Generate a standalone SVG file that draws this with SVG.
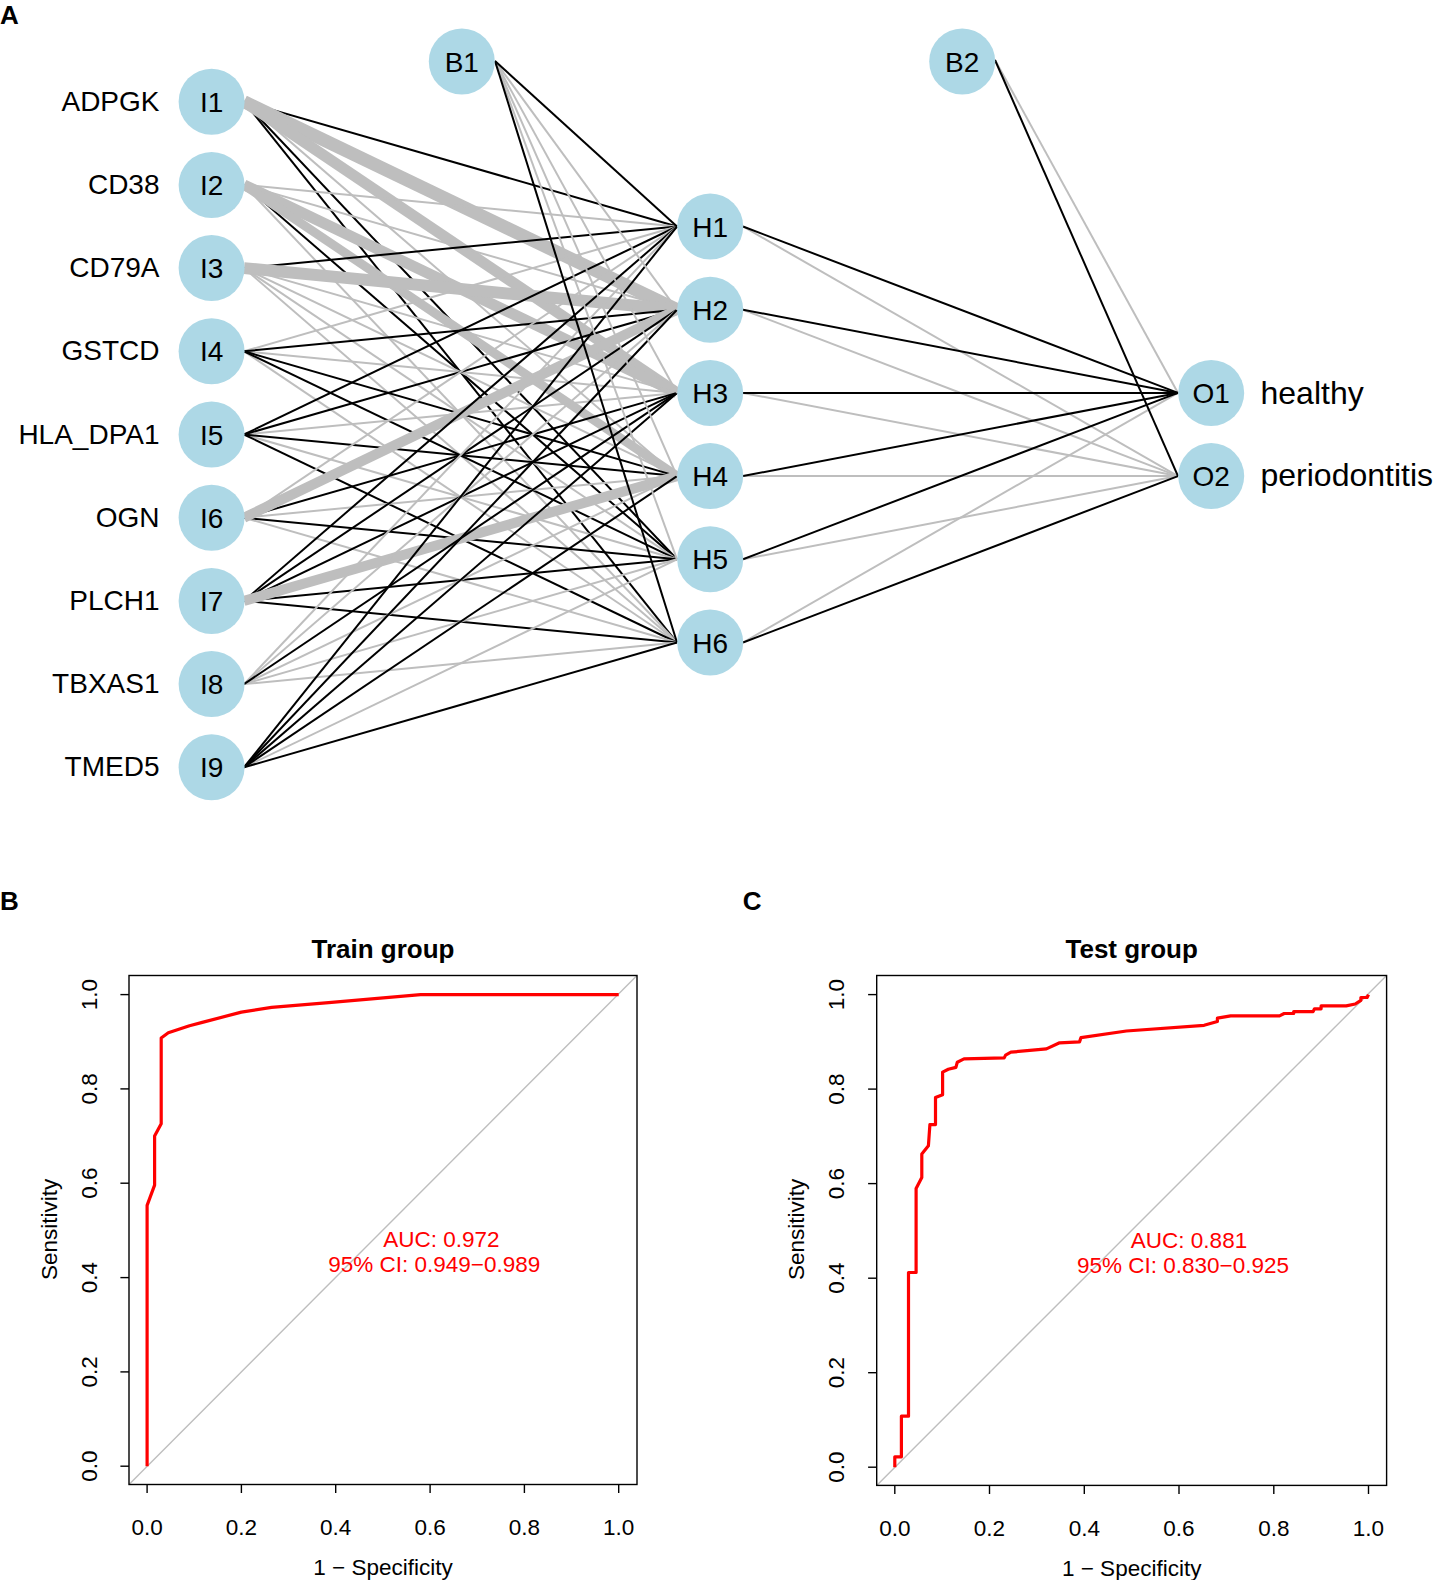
<svg xmlns="http://www.w3.org/2000/svg" width="1436" height="1580" viewBox="0 0 1436 1580">
<style>
text{font-family:"Liberation Sans",Arial,Helvetica,sans-serif;fill:#000}
.k{stroke:#000;stroke-width:2;fill:none}
.g{stroke:#BEBEBE;stroke-width:2;fill:none}
.gt{stroke:#BEBEBE;fill:none}
.node{fill:#ADD8E6}
.nl{font-size:28px;text-anchor:middle}
.gl{font-size:28px;text-anchor:end}
.ol{font-size:32px}
.panel{font-size:26px;font-weight:bold}
.title{font-size:26px;font-weight:bold;text-anchor:middle}
.ax{font-size:22.5px;text-anchor:middle}
.auc{font-size:22.5px;text-anchor:middle;fill:#FF0000}
.box{fill:none;stroke:#000;stroke-width:1.4}
.tick{stroke:#000;stroke-width:1.4}
.diag{stroke:#BEBEBE;stroke-width:1.4}
.roc{fill:none;stroke:#FF0000;stroke-width:3.2;stroke-linejoin:round}
</style>
<rect width="1436" height="1580" fill="#fff"/>
<text class="panel" x="0" y="24">A</text>
<g id="connectors">
<!-- I1 -->
<line class="g" x1="244" y1="101.7" x2="677" y2="476.1"/>
<line class="k" x1="244" y1="101.7" x2="677" y2="226.5"/>
<line class="k" x1="244" y1="101.7" x2="677" y2="559.3"/>
<line class="k" x1="244" y1="101.7" x2="677" y2="642.5"/>
<line class="gt" stroke-width="13" x1="244" y1="101.7" x2="677" y2="309.7"/>
<line class="gt" stroke-width="11" x1="244" y1="101.7" x2="677" y2="392.9"/>
<!-- I2 -->
<line class="g" x1="244" y1="184.9" x2="677" y2="226.5"/>
<line class="g" x1="244" y1="184.9" x2="677" y2="309.7"/>
<line class="g" x1="244" y1="184.9" x2="677" y2="642.5"/>
<line class="k" x1="244" y1="184.9" x2="677" y2="559.3"/>
<line class="gt" stroke-width="11" x1="244" y1="184.9" x2="677" y2="392.9"/>
<line class="gt" stroke-width="9" x1="244" y1="184.9" x2="677" y2="476.1"/>
<!-- I3 -->
<line class="g" x1="244" y1="268.1" x2="677" y2="392.9"/>
<line class="g" x1="244" y1="268.1" x2="677" y2="476.1"/>
<line class="g" x1="244" y1="268.1" x2="677" y2="559.3"/>
<line class="g" x1="244" y1="268.1" x2="677" y2="642.5"/>
<line class="k" x1="244" y1="268.1" x2="677" y2="226.5"/>
<line class="gt" stroke-width="12" x1="244" y1="268.1" x2="677" y2="309.7"/>
<!-- I4 -->
<line class="g" x1="244" y1="351.3" x2="677" y2="226.5"/>
<line class="g" x1="244" y1="351.3" x2="677" y2="392.9"/>
<line class="g" x1="244" y1="351.3" x2="677" y2="642.5"/>
<line class="k" x1="244" y1="351.3" x2="677" y2="309.7"/>
<line class="k" x1="244" y1="351.3" x2="677" y2="476.1"/>
<line class="k" x1="244" y1="351.3" x2="677" y2="559.3"/>
<!-- I5 -->
<line class="g" x1="244" y1="434.5" x2="677" y2="392.9"/>
<line class="g" x1="244" y1="434.5" x2="677" y2="559.3"/>
<line class="k" x1="244" y1="434.5" x2="677" y2="226.5"/>
<line class="k" x1="244" y1="434.5" x2="677" y2="309.7"/>
<line class="k" x1="244" y1="434.5" x2="677" y2="476.1"/>
<line class="k" x1="244" y1="434.5" x2="677" y2="642.5"/>
<!-- I6 -->
<line class="g" x1="244" y1="517.7" x2="677" y2="226.5"/>
<line class="g" x1="244" y1="517.7" x2="677" y2="476.1"/>
<line class="g" x1="244" y1="517.7" x2="677" y2="642.5"/>
<line class="k" x1="244" y1="517.7" x2="677" y2="392.9"/>
<line class="k" x1="244" y1="517.7" x2="677" y2="559.3"/>
<line class="gt" stroke-width="10" x1="244" y1="517.7" x2="677" y2="309.7"/>
<!-- I7 -->
<line class="k" x1="244" y1="600.9" x2="677" y2="226.5"/>
<line class="k" x1="244" y1="600.9" x2="677" y2="309.7"/>
<line class="k" x1="244" y1="600.9" x2="677" y2="392.9"/>
<line class="k" x1="244" y1="600.9" x2="677" y2="559.3"/>
<line class="k" x1="244" y1="600.9" x2="677" y2="642.5"/>
<line class="gt" stroke-width="10" x1="244" y1="600.9" x2="677" y2="476.1"/>
<!-- I8 -->
<line class="g" x1="244" y1="684.1" x2="677" y2="226.5"/>
<line class="g" x1="244" y1="684.1" x2="677" y2="309.7"/>
<line class="g" x1="244" y1="684.1" x2="677" y2="476.1"/>
<line class="g" x1="244" y1="684.1" x2="677" y2="559.3"/>
<line class="g" x1="244" y1="684.1" x2="677" y2="642.5"/>
<line class="k" x1="244" y1="684.1" x2="677" y2="392.9"/>
<!-- I9 -->
<line class="g" x1="244" y1="767.3" x2="677" y2="559.3"/>
<line class="k" x1="244" y1="767.3" x2="677" y2="226.5"/>
<line class="k" x1="244" y1="767.3" x2="677" y2="309.7"/>
<line class="k" x1="244" y1="767.3" x2="677" y2="392.9"/>
<line class="k" x1="244" y1="767.3" x2="677" y2="476.1"/>
<line class="k" x1="244" y1="767.3" x2="677" y2="642.5"/>
<!-- B1 -->
<line class="g" x1="495" y1="61" x2="677" y2="309.7"/>
<line class="g" x1="495" y1="61" x2="677" y2="392.9"/>
<line class="g" x1="495" y1="61" x2="677" y2="476.1"/>
<line class="g" x1="495" y1="61" x2="677" y2="559.3"/>
<line class="k" x1="495" y1="61" x2="677" y2="226.5"/>
<line class="k" x1="495" y1="61" x2="677" y2="642.5"/>
<!-- hidden to output -->
<line class="g" x1="743" y1="226.5" x2="1178" y2="476.1"/>
<line class="g" x1="743" y1="309.7" x2="1178" y2="476.1"/>
<line class="g" x1="743" y1="392.9" x2="1178" y2="476.1"/>
<line class="g" x1="743" y1="476.1" x2="1178" y2="476.1"/>
<line class="g" x1="743" y1="559.3" x2="1178" y2="476.1"/>
<line class="g" x1="743" y1="642.5" x2="1178" y2="392.9"/>
<line class="g" x1="995" y1="60" x2="1178" y2="392.9"/>
<line class="k" x1="743" y1="226.5" x2="1178" y2="392.9"/>
<line class="k" x1="743" y1="309.7" x2="1178" y2="392.9"/>
<line class="k" x1="743" y1="392.9" x2="1178" y2="392.9"/>
<line class="k" x1="743" y1="476.1" x2="1178" y2="392.9"/>
<line class="k" x1="743" y1="559.3" x2="1178" y2="392.9"/>
<line class="k" x1="743" y1="642.5" x2="1178" y2="476.1"/>
<line class="k" x1="995" y1="60" x2="1178" y2="476.1"/>
</g>
<g id="I1"><circle class="node" cx="211.6" cy="101.7" r="33"/><text class="nl" x="211.6" y="111.7">I1</text><text class="gl" x="159.5" y="110.7">ADPGK</text></g>
<g id="I2"><circle class="node" cx="211.6" cy="184.9" r="33"/><text class="nl" x="211.6" y="194.9">I2</text><text class="gl" x="159.5" y="193.9">CD38</text></g>
<g id="I3"><circle class="node" cx="211.6" cy="268.1" r="33"/><text class="nl" x="211.6" y="278.1">I3</text><text class="gl" x="159.5" y="277.1">CD79A</text></g>
<g id="I4"><circle class="node" cx="211.6" cy="351.3" r="33"/><text class="nl" x="211.6" y="361.3">I4</text><text class="gl" x="159.5" y="360.3">GSTCD</text></g>
<g id="I5"><circle class="node" cx="211.6" cy="434.5" r="33"/><text class="nl" x="211.6" y="444.5">I5</text><text class="gl" x="159.5" y="443.5">HLA_DPA1</text></g>
<g id="I6"><circle class="node" cx="211.6" cy="517.7" r="33"/><text class="nl" x="211.6" y="527.7">I6</text><text class="gl" x="159.5" y="526.7">OGN</text></g>
<g id="I7"><circle class="node" cx="211.6" cy="600.9" r="33"/><text class="nl" x="211.6" y="610.9">I7</text><text class="gl" x="159.5" y="609.9">PLCH1</text></g>
<g id="I8"><circle class="node" cx="211.6" cy="684.1" r="33"/><text class="nl" x="211.6" y="694.1">I8</text><text class="gl" x="159.5" y="693.1">TBXAS1</text></g>
<g id="I9"><circle class="node" cx="211.6" cy="767.3" r="33"/><text class="nl" x="211.6" y="777.3">I9</text><text class="gl" x="159.5" y="776.3">TMED5</text></g>
<g id="B1"><circle class="node" cx="461.8" cy="61.5" r="33"/><text class="nl" x="461.8" y="71.5">B1</text></g>
<g id="H1"><circle class="node" cx="710.2" cy="226.5" r="33"/><text class="nl" x="710.2" y="236.5">H1</text></g>
<g id="H2"><circle class="node" cx="710.2" cy="309.7" r="33"/><text class="nl" x="710.2" y="319.7">H2</text></g>
<g id="H3"><circle class="node" cx="710.2" cy="392.9" r="33"/><text class="nl" x="710.2" y="402.9">H3</text></g>
<g id="H4"><circle class="node" cx="710.2" cy="476.1" r="33"/><text class="nl" x="710.2" y="486.1">H4</text></g>
<g id="H5"><circle class="node" cx="710.2" cy="559.3" r="33"/><text class="nl" x="710.2" y="569.3">H5</text></g>
<g id="H6"><circle class="node" cx="710.2" cy="642.5" r="33"/><text class="nl" x="710.2" y="652.5">H6</text></g>
<g id="B2"><circle class="node" cx="962.2" cy="61.5" r="33"/><text class="nl" x="962.2" y="71.5">B2</text></g>
<g id="O1"><circle class="node" cx="1211.2" cy="392.9" r="33"/><text class="nl" x="1211.2" y="402.9">O1</text><text class="ol" x="1260.5" y="404">healthy</text></g>
<g id="O2"><circle class="node" cx="1211.2" cy="476.1" r="33"/><text class="nl" x="1211.2" y="486.1">O2</text><text class="ol" x="1260.5" y="486">periodontitis</text></g>

<g id="train-roc">
<text class="panel" x="0" y="910">B</text>
<text class="title" x="383" y="957.5">Train group</text>
<line class="diag" x1="129" y1="1484.4" x2="637" y2="975.5"/>
<polyline class="roc" points="147.1,1466.2 147.1,1205.4 154.6,1185.1 154.6,1136.1 161.2,1123.8 161.2,1038 168.3,1032.8 189.5,1025.7 202.3,1022.4 241.4,1012.1 271.6,1007.3 328.7,1002.6 420.6,994.6 618.7,994.6"/>
<rect class="box" x="129" y="975.5" width="508" height="509"/>
<g class="tick">
<line x1="147.1" y1="1484.4" x2="147.1" y2="1493"/><line x1="241.4" y1="1484.4" x2="241.4" y2="1493"/><line x1="335.7" y1="1484.4" x2="335.7" y2="1493"/><line x1="430.1" y1="1484.4" x2="430.1" y2="1493"/><line x1="524.4" y1="1484.4" x2="524.4" y2="1493"/><line x1="618.7" y1="1484.4" x2="618.7" y2="1493"/>
<line x1="129" y1="1466.2" x2="120.4" y2="1466.2"/><line x1="129" y1="1371.9" x2="120.4" y2="1371.9"/><line x1="129" y1="1277.6" x2="120.4" y2="1277.6"/><line x1="129" y1="1183.2" x2="120.4" y2="1183.2"/><line x1="129" y1="1088.9" x2="120.4" y2="1088.9"/><line x1="129" y1="994.6" x2="120.4" y2="994.6"/>
</g>
<text class="ax" x="147.1" y="1535">0.0</text><text class="ax" x="241.4" y="1535">0.2</text><text class="ax" x="335.7" y="1535">0.4</text><text class="ax" x="430.1" y="1535">0.6</text><text class="ax" x="524.4" y="1535">0.8</text><text class="ax" x="618.7" y="1535">1.0</text>
<text class="ax" transform="translate(96.7,1466.2) rotate(-90)">0.0</text>
<text class="ax" transform="translate(96.7,1371.9) rotate(-90)">0.2</text>
<text class="ax" transform="translate(96.7,1277.6) rotate(-90)">0.4</text>
<text class="ax" transform="translate(96.7,1183.2) rotate(-90)">0.6</text>
<text class="ax" transform="translate(96.7,1088.9) rotate(-90)">0.8</text>
<text class="ax" transform="translate(96.7,994.6) rotate(-90)">1.0</text>
<text class="ax" transform="translate(56.5,1229.4) rotate(-90)">Sensitivity</text>
<text class="ax" x="383" y="1575">1 − Specificity</text>
<text class="auc" x="441.4" y="1246.5">AUC: 0.972</text>
<text class="auc" x="434.3" y="1271.6">95% CI: 0.949−0.989</text>
</g>

<g id="test-roc">
<text class="panel" x="742.7" y="910">C</text>
<text class="title" x="1131.7" y="957.5">Test group</text>
<line class="diag" x1="876.7" y1="1485.4" x2="1386.6" y2="975.5"/>
<polyline class="roc" points="894.8,1467.2 894.8,1456.8 901.4,1456.8 901.4,1416.2 908.5,1416.2 908.5,1272.5 916.1,1272.5 916.1,1188.4 921.8,1177.5 921.8,1153.9 928.4,1145.8 929.9,1124.6 935.5,1124.6 935.5,1097.6 942.6,1094.8 942.6,1072.1 948.3,1069.3 955.9,1067.4 957.3,1062.2 964,1058.9 1004.2,1057.9 1005.6,1055.1 1010.9,1052.2 1046.4,1048.9 1059.6,1042.8 1079.5,1041.9 1081,1037.6 1126.4,1031 1204.1,1025.3 1217.4,1021.5 1217.4,1018.2 1230.7,1015.9 1279.5,1015.9 1284.2,1013.5 1293.7,1013.5 1293.7,1011.6 1313.1,1011.6 1314.5,1008.8 1321.1,1008.8 1321.1,1005.9 1346.2,1005.9 1355.2,1004 1360.9,1000.3 1360.9,997.5 1367.1,997.5 1368.5,994.6"/>
<rect class="box" x="876.7" y="975.5" width="509.9" height="509.9"/>
<g class="tick">
<line x1="894.8" y1="1485.4" x2="894.8" y2="1494"/><line x1="989.5" y1="1485.4" x2="989.5" y2="1494"/><line x1="1084.3" y1="1485.4" x2="1084.3" y2="1494"/><line x1="1179" y1="1485.4" x2="1179" y2="1494"/><line x1="1273.8" y1="1485.4" x2="1273.8" y2="1494"/><line x1="1368.5" y1="1485.4" x2="1368.5" y2="1494"/>
<line x1="876.7" y1="1467.2" x2="868.1" y2="1467.2"/><line x1="876.7" y1="1372.7" x2="868.1" y2="1372.7"/><line x1="876.7" y1="1278.2" x2="868.1" y2="1278.2"/><line x1="876.7" y1="1183.6" x2="868.1" y2="1183.6"/><line x1="876.7" y1="1089.1" x2="868.1" y2="1089.1"/><line x1="876.7" y1="994.6" x2="868.1" y2="994.6"/>
</g>
<text class="ax" x="894.8" y="1536">0.0</text><text class="ax" x="989.5" y="1536">0.2</text><text class="ax" x="1084.3" y="1536">0.4</text><text class="ax" x="1179" y="1536">0.6</text><text class="ax" x="1273.8" y="1536">0.8</text><text class="ax" x="1368.5" y="1536">1.0</text>
<text class="ax" transform="translate(844.4,1467.2) rotate(-90)">0.0</text>
<text class="ax" transform="translate(844.4,1372.7) rotate(-90)">0.2</text>
<text class="ax" transform="translate(844.4,1278.2) rotate(-90)">0.4</text>
<text class="ax" transform="translate(844.4,1183.6) rotate(-90)">0.6</text>
<text class="ax" transform="translate(844.4,1089.1) rotate(-90)">0.8</text>
<text class="ax" transform="translate(844.4,994.6) rotate(-90)">1.0</text>
<text class="ax" transform="translate(804.3,1229.4) rotate(-90)">Sensitivity</text>
<text class="ax" x="1131.7" y="1576">1 − Specificity</text>
<text class="auc" x="1189" y="1247.5">AUC: 0.881</text>
<text class="auc" x="1183" y="1272.7">95% CI: 0.830−0.925</text>
</g>
</svg>
